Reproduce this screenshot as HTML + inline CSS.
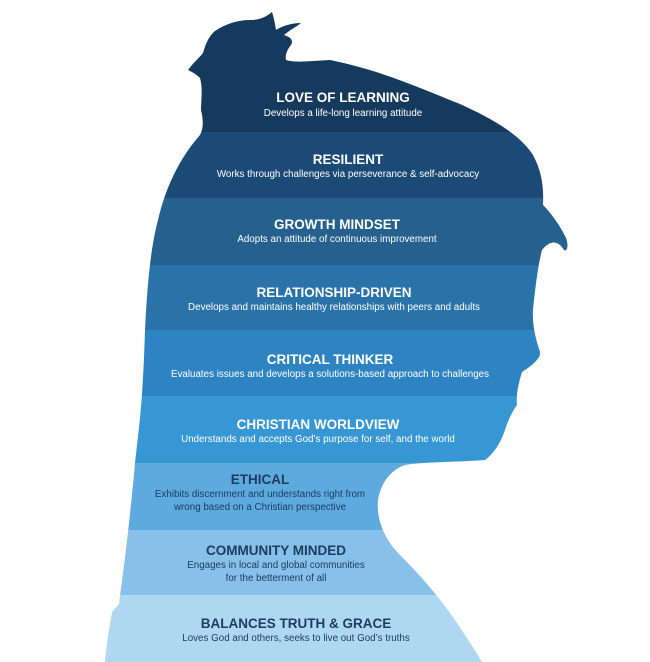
<!DOCTYPE html>
<html><head><meta charset="utf-8"><style>
html,body{margin:0;padding:0;background:#fff;}
svg{display:block;}
.t{font-family:"Liberation Sans",sans-serif;font-weight:bold;font-size:13.5px;text-anchor:middle;}
.s{font-family:"Liberation Sans",sans-serif;font-size:9.8px;text-anchor:middle;}
.w{fill:#fff;}
.d{fill:#1d3c62;}
</style></head><body>
<svg width="650" height="662" viewBox="0 0 650 662" xmlns="http://www.w3.org/2000/svg">
<defs>
<clipPath id="head">
<path d="M188,70 C194,62 199,58 203,53 C206,42 210,35 215,31 C225,24 238,20 250,20 C258,20 265,18 272,12 C274,18 275,24 276,30 C282,26 292,23 301,23 C296,27 290,30 284,35 C290,37 294,40 291,45 C287,50 285,55 286,60 C295,63 310,61 330,60 C380,70 420,88 460,104 C495,120 520,135 533,155 C541,170 544,185 543,205 C550,212 560,225 566,238 C569,246 567,252 564,250 C558,240 550,240 542,250 C538,265 535,290 533,310 C532,325 536,340 540,352 C541,358 533,365 522,372 C518,385 516,395 517,405 C512,412 508,420 505,430 C500,445 492,455 485,460 C460,462 420,462 405,465 C390,470 380,485 378,500 C376,520 385,540 400,555 C420,575 440,598 455,620 C465,635 475,650 482,662 L105,662 C107,640 110,625 112,612 L119,604 C122,580 128,540 135,463 C140,420 143,396 145,330 C147,290 150,250 158,220 C165,190 178,160 200,135 C204,128 203,118 201,110 C201,100 203,88 200,78 C196,74 192,72 188,70 Z"/>
</clipPath>
</defs>
<g clip-path="url(#head)">
<rect x="0" y="0" width="650" height="132" fill="#163a5e"/>
<rect x="0" y="132" width="650" height="66" fill="#1b4a77"/>
<rect x="0" y="198" width="650" height="67" fill="#25608e"/>
<rect x="0" y="265" width="650" height="65" fill="#2a73a9"/>
<rect x="0" y="330" width="650" height="66" fill="#2e84c3"/>
<rect x="0" y="396" width="650" height="67" fill="#3796d4"/>
<rect x="0" y="463" width="650" height="67" fill="#5eaade"/>
<rect x="0" y="530" width="650" height="65" fill="#87c0e8"/>
<rect x="0" y="595" width="650" height="67" fill="#b0d7f2"/>
</g>
<text class="t w" x="343" y="102">LOVE OF LEARNING</text>
<text class="s w" x="343" y="116">Develops a life-long learning attitude</text>
<text class="t w" x="348" y="164">RESILIENT</text>
<text class="s w" x="348" y="177">Works through challenges via perseverance &amp; self-advocacy</text>
<text class="t w" x="337" y="229">GROWTH MINDSET</text>
<text class="s w" x="337" y="242">Adopts an attitude of continuous improvement</text>
<text class="t w" x="334" y="297">RELATIONSHIP-DRIVEN</text>
<text class="s w" x="334" y="310">Develops and maintains healthy relationships with peers and adults</text>
<text class="t w" x="330" y="364">CRITICAL THINKER</text>
<text class="s w" x="330" y="377">Evaluates issues and develops a solutions-based approach to challenges</text>
<text class="t w" x="318" y="429">CHRISTIAN WORLDVIEW</text>
<text class="s w" x="318" y="442">Understands and accepts God’s purpose for self, and the world</text>
<text class="t d" x="260" y="484">ETHICAL</text>
<text class="s d" x="260" y="497">Exhibits discernment and understands right from</text>
<text class="s d" x="260" y="510">wrong based on a Christian perspective</text>
<text class="t d" x="276" y="555">COMMUNITY MINDED</text>
<text class="s d" x="276" y="568">Engages in local and global communities</text>
<text class="s d" x="276" y="581">for the betterment of all</text>
<text class="t d" x="296" y="628">BALANCES TRUTH &amp; GRACE</text>
<text class="s d" x="296" y="641">Loves God and others, seeks to live out God’s truths</text>
</svg>
</body></html>
